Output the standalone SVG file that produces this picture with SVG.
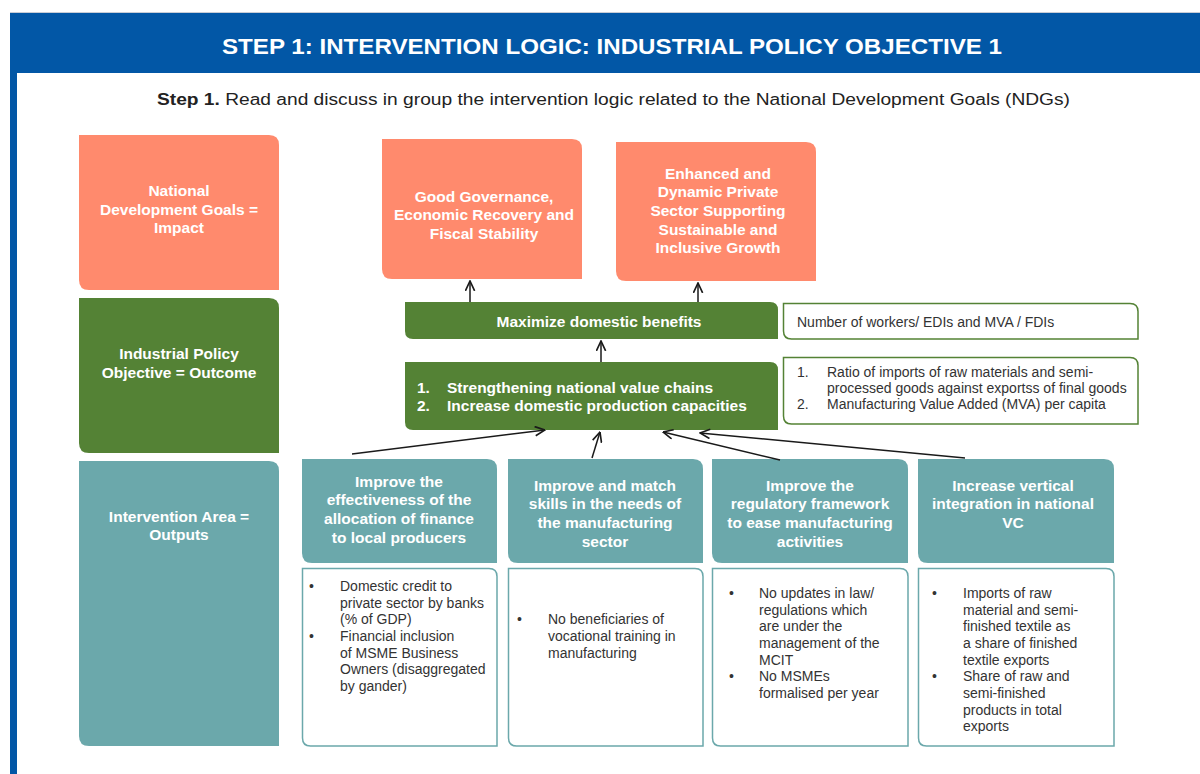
<svg xmlns="http://www.w3.org/2000/svg" width="1200" height="774" viewBox="0 0 1200 774">
<defs>
<style>
.hd{font-family:"Liberation Sans",Arial,sans-serif;font-weight:bold;fill:#fff;font-size:15.5px;text-anchor:middle}
.tx{font-family:"Liberation Sans",Arial,sans-serif;fill:#333;font-size:14px}
.sal{fill:#FF8A6D}
.grn{fill:#548235}
.tea{fill:#6BA8AB}
.ibg{fill:#fff;stroke:#548235;stroke-width:1.5}
.ibt{fill:#fff;stroke:#6BA8AB;stroke-width:1.5}
.cn{stroke:#1a1a1a;stroke-width:1.5;fill:none;marker-end:url(#ah)}
</style>
<marker id="ah" viewBox="0 0 10 10" refX="9.5" refY="5" markerWidth="11" markerHeight="11" markerUnits="userSpaceOnUse" orient="auto">
<path d="M0.5,0.8 L9.5,5 L0.5,9.2" fill="none" stroke="#1a1a1a" stroke-width="1.5"/>
</marker>
</defs>
<rect width="1200" height="774" fill="#fff"/>
<g id="frame">
<rect x="10" y="12" width="1190" height="1" fill="#c9cdd6"/>
<rect x="10" y="13" width="1190" height="60" fill="#0257A6"/>
<rect x="10" y="73" width="7" height="701" fill="#0257A6"/>
<text x="612" y="54" font-family="'Liberation Sans',Arial,sans-serif" font-weight="bold" font-size="22" fill="#fff" text-anchor="middle" textLength="780" lengthAdjust="spacingAndGlyphs">STEP 1: INTERVENTION LOGIC: INDUSTRIAL POLICY OBJECTIVE 1</text>
<text x="157" y="105" font-family="'Liberation Sans',Arial,sans-serif" font-size="16" fill="#222" textLength="913" lengthAdjust="spacingAndGlyphs"><tspan font-weight="bold">Step 1.</tspan> Read and discuss in group the intervention logic related to the National Development Goals (NDGs)</text>
</g>
<g id="label-impact">
<path class="sal" d="M79,135 H269 Q279,135 279,145 V290 H89 Q79,290 79,280 Z"/>
<text class="hd"><tspan x="179" y="196">National</tspan><tspan x="179" y="215">Development Goals =</tspan><tspan x="179" y="233">Impact</tspan></text>
</g>
<g id="label-outcome">
<path class="grn" d="M79,298 H269 Q279,298 279,308 V453 H89 Q79,453 79,443 Z"/>
<text class="hd"><tspan x="179" y="359">Industrial Policy</tspan><tspan x="179" y="378">Objective = Outcome</tspan></text>
</g>
<g id="label-outputs">
<path class="tea" d="M79,461 H269 Q279,461 279,471 V746 H89 Q79,746 79,736 Z"/>
<text class="hd"><tspan x="179" y="522">Intervention Area =</tspan><tspan x="179" y="540">Outputs</tspan></text>
</g>
<g id="goal-a">
<path class="sal" d="M382,139 H572 Q582,139 582,149 V279 H392 Q382,279 382,269 Z"/>
<text class="hd"><tspan x="484" y="202">Good Governance,</tspan><tspan x="484" y="220">Economic Recovery and</tspan><tspan x="484" y="239">Fiscal Stability</tspan></text>
</g>
<g id="goal-b">
<path class="sal" d="M616,142 H806 Q816,142 816,152 V281 H626 Q616,281 616,271 Z"/>
<text class="hd"><tspan x="718" y="179">Enhanced and</tspan><tspan x="718" y="197">Dynamic Private</tspan><tspan x="718" y="216">Sector Supporting</tspan><tspan x="718" y="235">Sustainable and</tspan><tspan x="718" y="253">Inclusive Growth</tspan></text>
</g>
<g id="maximize">
<path class="grn" d="M405,302 H770 Q778,302 778,310 V339 H413 Q405,339 405,331 Z"/>
<text class="hd" x="599" y="327">Maximize domestic benefits</text>
</g>
<g id="strengthening">
<path class="grn" d="M405,362 H770 Q778,362 778,370 V430 H413 Q405,430 405,422 Z"/>
<text class="hd" style="text-anchor:start"><tspan x="417" y="393">1.</tspan><tspan x="447" y="393">Strengthening national value chains</tspan><tspan x="417" y="411">2.</tspan><tspan x="447" y="411">Increase domestic production capacities</tspan></text>
</g>
<g id="indicator-maximize">
<path class="ibg" d="M783.5,303.5 H1130 Q1138,303.5 1138,311.5 V339 H791.5 Q783.5,339 783.5,331 Z"/>
<text class="tx" x="797" y="327">Number of workers/ EDIs and MVA / FDIs</text>
</g>
<g id="indicator-strengthening">
<path class="ibg" d="M783.5,357.5 H1130 Q1138,357.5 1138,365.5 V424 H791.5 Q783.5,424 783.5,416 Z"/>
<text class="tx"><tspan x="797" y="377">1.</tspan><tspan x="827" y="377">Ratio of imports of raw materials and semi-</tspan><tspan x="827" y="393">processed goods against exportss of final goods</tspan><tspan x="797" y="409">2.</tspan><tspan x="827" y="409">Manufacturing Value Added (MVA) per capita</tspan></text>
</g>
<g id="area-finance">
<path class="tea" d="M302,459 H487 Q497,459 497,469 V563 H312 Q302,563 302,553 Z"/>
<text class="hd"><tspan x="399" y="487">Improve the</tspan><tspan x="399" y="505">effectiveness of the</tspan><tspan x="399" y="524">allocation of finance</tspan><tspan x="399" y="543">to local producers</tspan></text>
<path class="ibt" d="M302.5,568.5 H489 Q497,568.5 497,576.5 V746 H310.5 Q302.5,746 302.5,738 Z"/>
<text class="tx"><tspan x="309" y="591">•</tspan><tspan x="340" y="591">Domestic credit to</tspan><tspan x="340" y="608">private sector by banks</tspan><tspan x="340" y="624">(% of GDP)</tspan><tspan x="309" y="641">•</tspan><tspan x="340" y="641">Financial inclusion</tspan><tspan x="340" y="658">of MSME Business</tspan><tspan x="340" y="674">Owners (disaggregated</tspan><tspan x="340" y="691">by gander)</tspan></text>
</g>
<g id="area-skills">
<path class="tea" d="M508,459 H693 Q703,459 703,469 V563 H518 Q508,563 508,553 Z"/>
<text class="hd"><tspan x="605" y="491">Improve and match</tspan><tspan x="605" y="509">skills in the needs of</tspan><tspan x="605" y="528">the manufacturing</tspan><tspan x="605" y="547">sector</tspan></text>
<path class="ibt" d="M508.5,568.5 H695 Q703,568.5 703,576.5 V746 H516.5 Q508.5,746 508.5,738 Z"/>
<text class="tx"><tspan x="517" y="624">•</tspan><tspan x="548" y="624">No beneficiaries of</tspan><tspan x="548" y="641">vocational training in</tspan><tspan x="548" y="658">manufacturing</tspan></text>
</g>
<g id="area-regulatory">
<path class="tea" d="M712,459 H898 Q908,459 908,469 V563 H722 Q712,563 712,553 Z"/>
<text class="hd"><tspan x="810" y="491">Improve the</tspan><tspan x="810" y="509">regulatory framework</tspan><tspan x="810" y="528">to ease manufacturing</tspan><tspan x="810" y="547">activities</tspan></text>
<path class="ibt" d="M712.5,568.5 H900 Q908,568.5 908,576.5 V746 H720.5 Q712.5,746 712.5,738 Z"/>
<text class="tx"><tspan x="729" y="598">•</tspan><tspan x="759" y="598">No updates in law/</tspan><tspan x="759" y="615">regulations which</tspan><tspan x="759" y="631">are under the</tspan><tspan x="759" y="648">management of the</tspan><tspan x="759" y="665">MCIT</tspan><tspan x="729" y="681">•</tspan><tspan x="759" y="681">No MSMEs</tspan><tspan x="759" y="698">formalised per year</tspan></text>
</g>
<g id="area-vertical">
<path class="tea" d="M918,459 H1104 Q1114,459 1114,469 V563 H928 Q918,563 918,553 Z"/>
<text class="hd"><tspan x="1013" y="491">Increase vertical</tspan><tspan x="1013" y="509">integration in national</tspan><tspan x="1013" y="528">VC</tspan></text>
<path class="ibt" d="M918.5,568.5 H1106 Q1114,568.5 1114,576.5 V746 H926.5 Q918.5,746 918.5,738 Z"/>
<text class="tx"><tspan x="932" y="598">•</tspan><tspan x="963" y="598">Imports of raw</tspan><tspan x="963" y="615">material and semi-</tspan><tspan x="963" y="631">finished textile as</tspan><tspan x="963" y="648">a share of finished</tspan><tspan x="963" y="665">textile exports</tspan><tspan x="932" y="681">•</tspan><tspan x="963" y="681">Share of raw and</tspan><tspan x="963" y="698">semi-finished</tspan><tspan x="963" y="715">products in total</tspan><tspan x="963" y="731">exports</tspan></text>
</g>
<g id="connectors">
<line class="cn" x1="470" y1="302" x2="470" y2="281"/>
<line class="cn" x1="698" y1="302" x2="698" y2="283"/>
<line class="cn" x1="601" y1="362" x2="601" y2="341"/>
<line class="cn" x1="352" y1="454" x2="545" y2="430"/>
<line class="cn" x1="592" y1="458" x2="600" y2="432"/>
<line class="cn" x1="780" y1="460" x2="663" y2="432"/>
<line class="cn" x1="965" y1="458" x2="700" y2="433"/>
</g>
</svg>
